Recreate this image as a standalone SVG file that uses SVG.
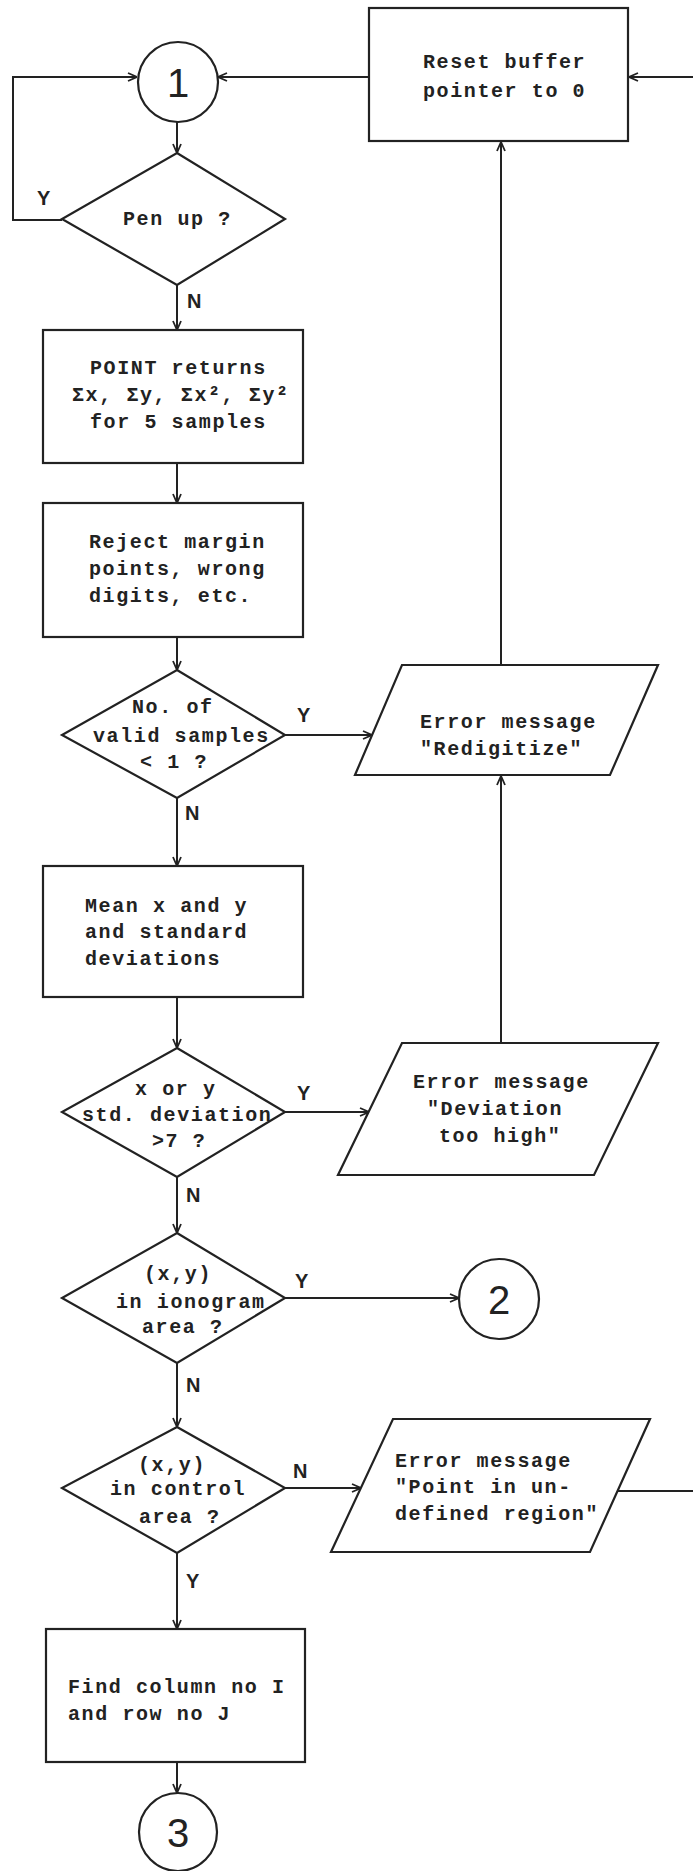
<svg xmlns="http://www.w3.org/2000/svg" width="693" height="1871" viewBox="0 0 693 1871">
  <defs>
    <marker id="arr" viewBox="0 0 10 10" refX="10" refY="5" markerWidth="10" markerHeight="10" markerUnits="userSpaceOnUse" orient="auto">
      <path d="M1,1 L10,5 L1,9" fill="none" stroke="#222" stroke-width="1.8"/>
    </marker>
    <style>
      .shape { fill: none; stroke: #222; stroke-width: 2.2; stroke-linejoin: miter; }
      .wire { fill: none; stroke: #222; stroke-width: 2; }
      .arrow { marker-end: url(#arr); }
      .t { font-family: "Liberation Mono", "DejaVu Sans Mono", monospace; font-size: 20px; font-weight: bold; letter-spacing: 1.6px; fill: #222; }
      .lbl { font-family: "Liberation Sans", Arial, sans-serif; font-size: 20px; font-weight: bold; fill: #222; }
      .num { font-family: "Liberation Sans", Arial, sans-serif; font-size: 40px; fill: #222; text-anchor: middle; }
    </style>
  </defs>
  <rect width="693" height="1871" fill="#fff"/>

  <!-- connectors -->
  <g id="connectors">
    <polyline class="wire arrow" points="62,220 13,220 13,77 137,77"/>
    <line class="wire arrow" x1="369" y1="77" x2="218" y2="77"/>
    <line class="wire arrow" x1="693" y1="77" x2="629" y2="77"/>
    <line class="wire arrow" x1="177" y1="122" x2="177" y2="153"/>
    <line class="wire arrow" x1="177" y1="285" x2="177" y2="330"/>
    <line class="wire arrow" x1="177" y1="463" x2="177" y2="503"/>
    <line class="wire arrow" x1="177" y1="637" x2="177" y2="670"/>
    <line class="wire arrow" x1="285" y1="735" x2="372" y2="735"/>
    <line class="wire arrow" x1="501" y1="665" x2="501" y2="142"/>
    <line class="wire arrow" x1="177" y1="798" x2="177" y2="866"/>
    <line class="wire arrow" x1="177" y1="997" x2="177" y2="1048"/>
    <line class="wire arrow" x1="285" y1="1112" x2="369" y2="1112"/>
    <line class="wire arrow" x1="501" y1="1043" x2="501" y2="776"/>
    <line class="wire arrow" x1="177" y1="1177" x2="177" y2="1233"/>
    <line class="wire arrow" x1="285" y1="1298" x2="459" y2="1298"/>
    <line class="wire arrow" x1="177" y1="1363" x2="177" y2="1427"/>
    <line class="wire arrow" x1="285" y1="1488" x2="361" y2="1488"/>
    <line class="wire" x1="617" y1="1491" x2="693" y2="1491"/>
    <line class="wire arrow" x1="177" y1="1553" x2="177" y2="1629"/>
    <line class="wire arrow" x1="177" y1="1762" x2="177" y2="1793"/>

    <text class="lbl" x="37" y="205">Y</text>
    <text class="lbl" x="187" y="308">N</text>
    <text class="lbl" x="297" y="722">Y</text>
    <text class="lbl" x="185" y="820">N</text>
    <text class="lbl" x="297" y="1100">Y</text>
    <text class="lbl" x="186" y="1202">N</text>
    <text class="lbl" x="295" y="1288">Y</text>
    <text class="lbl" x="186" y="1392">N</text>
    <text class="lbl" x="293" y="1478">N</text>
    <text class="lbl" x="186" y="1588">Y</text>
  </g>

  <!-- connector 1 -->
  <g id="c1">
    <circle class="shape" cx="178" cy="82" r="40"/>
    <text class="num" x="178" y="97">1</text>
  </g>

  <g id="reset">
    <rect class="shape" x="369" y="8" width="259" height="133"/>
    <text class="t" x="423" y="68">Reset buffer</text>
    <text class="t" x="423" y="97">pointer to 0</text>
  </g>

  <g id="penup">
    <polygon class="shape" points="177,153 285,219 177,285 62,219"/>
    <text class="t" x="123" y="225">Pen up ?</text>
  </g>

  <g id="point">
    <rect class="shape" x="43" y="330" width="260" height="133"/>
    <text class="t" x="90" y="374">POINT returns</text>
    <text class="t" x="72" y="401">Σx, Σy, Σx², Σy²</text>
    <text class="t" x="90" y="428">for 5 samples</text>
  </g>

  <g id="reject">
    <rect class="shape" x="43" y="503" width="260" height="134"/>
    <text class="t" x="89" y="548">Reject margin</text>
    <text class="t" x="89" y="575">points, wrong</text>
    <text class="t" x="89" y="602">digits, etc.</text>
  </g>

  <g id="valid">
    <polygon class="shape" points="177,670 285,735 177,798 62,735"/>
    <text class="t" x="132" y="713">No. of</text>
    <text class="t" x="93" y="742">valid samples</text>
    <text class="t" x="140" y="768">&lt; 1 ?</text>
  </g>

  <g id="redigitize">
    <polygon class="shape" points="402,665 658,665 610,775 355,775"/>
    <text class="t" x="420" y="728">Error message</text>
    <text class="t" x="420" y="755">"Redigitize"</text>
  </g>

  <g id="mean">
    <rect class="shape" x="43" y="866" width="260" height="131"/>
    <text class="t" x="85" y="912">Mean x and y</text>
    <text class="t" x="85" y="938">and standard</text>
    <text class="t" x="85" y="965">deviations</text>
  </g>

  <g id="stddev">
    <polygon class="shape" points="177,1048 285,1112 177,1177 62,1112"/>
    <text class="t" x="135" y="1095">x or y</text>
    <text class="t" x="82" y="1121">std. deviation</text>
    <text class="t" x="152" y="1147">&gt;7 ?</text>
  </g>

  <g id="deviation">
    <polygon class="shape" points="402,1043 658,1043 594,1175 338,1175"/>
    <text class="t" x="413" y="1088">Error message</text>
    <text class="t" x="427" y="1115">"Deviation</text>
    <text class="t" x="439" y="1142">too high"</text>
  </g>

  <g id="ionogram">
    <polygon class="shape" points="177,1233 285,1298 177,1363 62,1298"/>
    <text class="t" x="144" y="1280">(x,y)</text>
    <text class="t" x="116" y="1308">in ionogram</text>
    <text class="t" x="142" y="1333">area ?</text>
  </g>

  <g id="c2">
    <circle class="shape" cx="499" cy="1299" r="40"/>
    <text class="num" x="499" y="1314">2</text>
  </g>

  <g id="control">
    <polygon class="shape" points="177,1427 285,1488 177,1553 62,1488"/>
    <text class="t" x="138" y="1471">(x,y)</text>
    <text class="t" x="110" y="1495">in control</text>
    <text class="t" x="139" y="1523">area ?</text>
  </g>

  <g id="undefined">
    <polygon class="shape" points="393,1419 650,1419 590,1552 331,1552"/>
    <text class="t" x="395" y="1467">Error message</text>
    <text class="t" x="395" y="1493">"Point in un-</text>
    <text class="t" x="395" y="1520">defined region"</text>
  </g>

  <g id="find">
    <rect class="shape" x="46" y="1629" width="259" height="133"/>
    <text class="t" x="68" y="1693">Find column no I</text>
    <text class="t" x="68" y="1720">and row no J</text>
  </g>

  <g id="c3">
    <circle class="shape" cx="178" cy="1832" r="39"/>
    <text class="num" x="178" y="1847">3</text>
  </g>
</svg>
